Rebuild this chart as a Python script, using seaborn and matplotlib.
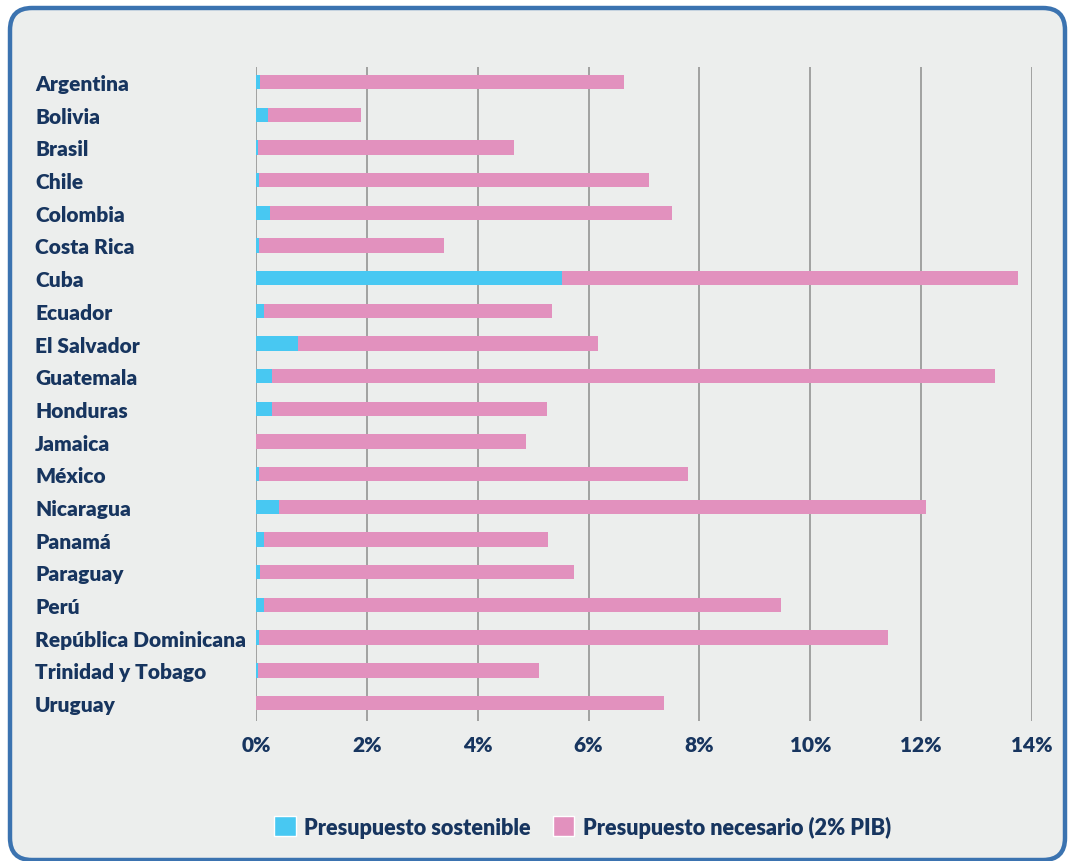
import numpy as np
import pandas as pd
import seaborn as sns
from matplotlib import pyplot as plt
from matplotlib.patches import FancyBboxPatch, Patch
from matplotlib.transforms import IdentityTransform

# data (% of GDP)
countries = ['Argentina', 'Bolivia', 'Brasil', 'Chile', 'Colombia', 'Costa Rica', 'Cuba',
             'Ecuador', 'El Salvador', 'Guatemala', 'Honduras', 'Jamaica', 'México',
             'Nicaragua', 'Panamá', 'Paraguay', 'Perú', 'República Dominicana',
             'Trinidad y Tobago', 'Uruguay']
sostenible = [0.08, 0.22, 0.04, 0.06, 0.26, 0.06, 5.52, 0.14, 0.76, 0.28, 0.29, 0.0,
              0.06, 0.42, 0.14, 0.08, 0.14, 0.06, 0.04, 0.0]
necesario = [6.64, 1.90, 4.66, 7.09, 7.51, 3.39, 13.75, 5.34, 6.17, 13.34, 5.25, 4.87,
             7.80, 12.08, 5.27, 5.74, 9.48, 11.41, 5.11, 7.36]
x_ticks = [0, 2, 4, 6, 8, 10, 12, 14]

BLUE = '#48C8F2'
PINK = '#E291BE'
NAVY = '#17355F'
BG = '#ECEEED'

sns.set_style('white')
plt.rcParams['font.family'] = ['Lato', 'DejaVu Sans']

df = pd.DataFrame({'pais': countries, 'sostenible': sostenible, 'necesario': necesario})

fig = plt.figure(figsize=(10.69, 8.62), dpi=100, facecolor='white')
frame = FancyBboxPatch((10, 1), 1055, 852, boxstyle='round,pad=0,rounding_size=22',
                       transform=IdentityTransform(), facecolor=BG, edgecolor='#3B73B0',
                       linewidth=3.2, zorder=-10)
fig.patches.append(frame)

ax = fig.add_axes([0.2395, 0.1624, 0.7259, 0.7587])
ax.set_facecolor('none')

sns.barplot(data=df, x='necesario', y='pais', color=PINK, width=0.44,
            saturation=1, linewidth=0, ax=ax, zorder=3)
sns.barplot(data=df, x='sostenible', y='pais', color=BLUE, width=0.44,
            saturation=1, linewidth=0, ax=ax, zorder=4)

ax.set_xlim(0, 14)
ax.set_ylim(len(countries) - 0.45, -0.46)
ax.set_xticks(x_ticks)
ax.set_xticklabels([f'{t}%' for t in x_ticks])
for t in x_ticks:
    ax.axvline(t, color='#9B9B9B', lw=1.3, zorder=1)

ax.set_xlabel('')
ax.set_ylabel('')
for s in ax.spines.values():
    s.set_visible(False)

ax.tick_params(axis='x', length=0, pad=10, labelsize=15, labelcolor=NAVY)
ax.tick_params(axis='y', length=0, pad=159, labelsize=15, labelcolor=NAVY)
for lab in ax.get_xticklabels() + ax.get_yticklabels():
    lab.set_fontweight('heavy')
for lab in ax.get_yticklabels():
    lab.set_horizontalalignment('left')

handles = [Patch(facecolor=BLUE, label='Presupuesto sostenible'),
           Patch(facecolor=PINK, label='Presupuesto necesario (2% PIB)')]
leg = fig.legend(handles=handles, loc='center', bbox_to_anchor=(0.545, 0.040),
                 ncol=2, frameon=False, handlelength=1.0, handleheight=1.0,
                 handletextpad=0.4, columnspacing=1.0,
                 prop={'weight': 'heavy', 'size': 15.6})
for txt in leg.get_texts():
    txt.set_color(NAVY)

fig.savefig('out.png', dpi=100, facecolor='white')
